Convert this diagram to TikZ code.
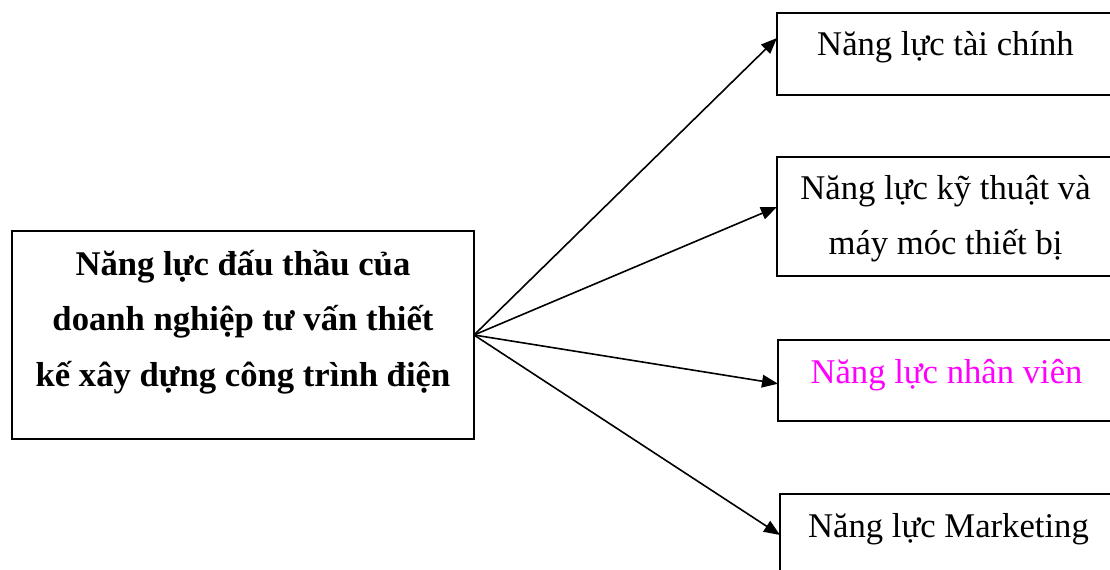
\documentclass[tikz,border=0pt]{standalone}
\usepackage{fontspec}
\setmainfont{Liberation Serif}
\usetikzlibrary{arrows.meta,calc}
\definecolor{staffpink}{RGB}{255,0,255}
\newcommand{\boxFont}[0]{\fontsize{26}{41.5}\selectfont}

\begin{document}
\begin{tikzpicture}[x=0.75pt, y=-0.75pt]
  \tikzset{frame/.style={draw, line width=1.4pt, inner sep=0pt, outer sep=0pt,
      anchor=north west, minimum width=252.75pt, minimum height=61.5pt},
    caption/.style={font=\boxFont, align=center, anchor=base, inner sep=0pt},
    link/.style={line width=1.2pt, -{Triangle[length=12pt,width=9.5pt]}}}
  \useasboundingbox (0,0) rectangle (1110,570);

  \node[frame, minimum width=346.5pt, minimum height=156pt] (bid) at (12,231) {};
  \node[frame] (finance) at (777,13) {};
  \node[frame, minimum height=89.25pt] (tech) at (777,157) {};
  \node[frame, minimum height=60.75pt] (staff) at (778,340) {};
  \node[frame] (market) at (780,494) {};

  \node[caption, font=\boxFont\bfseries] (bidtext) at ($(bid.north)+(0,155)$)
    {Năng lực đấu thầu của\\doanh nghiệp tư vấn thiết\\kế xây dựng công trình điện};
  \node[caption] (financetext) at ($(finance.north)+(0,43)$) {Năng lực tài chính};
  \node[caption] (techtext) at ($(tech.north)+(0,98)$) {Năng lực kỹ thuật và\\máy móc thiết bị};
  \node[caption, text=staffpink] (stafftext) at ($(staff.north)+(0,43)$) {Năng lực nhân viên};
  \node[caption] (markettext) at ($(market.north)+(0,43)$) {Năng lực Marketing};

  \draw[link] (bid.east) -- ($(finance.north west)!0.305!(finance.south west)$);
  \draw[link] (bid.east) -- ($(tech.north west)!0.42!(tech.south west)$);
  \draw[link] (bid.east) -- ($(staff.north west)!0.54!(staff.south west)$);
  \draw[link] (bid.east) -- ($(market.north west)!0.5!(market.south west)$);
\end{tikzpicture}
\end{document}
